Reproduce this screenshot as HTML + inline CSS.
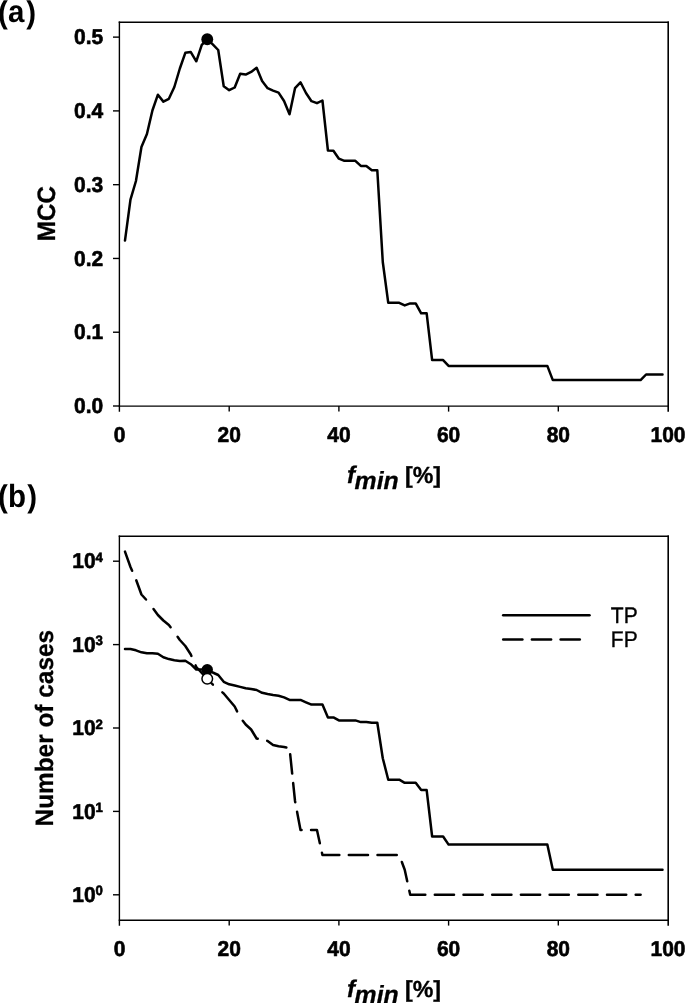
<!DOCTYPE html>
<html><head><meta charset="utf-8"><title>MCC and number of cases vs f_min</title>
<style>html,body{margin:0;padding:0;background:#fff;}svg{display:block;filter:grayscale(1);}text{font-family:"Liberation Sans", sans-serif;text-rendering:geometricPrecision;}</style></head><body>
<svg width="685" height="1003" viewBox="0 0 685 1003">
<rect width="685" height="1003" fill="#fff"/>
<text transform="translate(-2.10,22.60) scale(1,1.067)" font-size="29.5" font-weight="bold">(</text>
<text transform="translate(8.10,22.25) scale(1,1.050)" font-size="29.5" font-weight="bold">a</text>
<text transform="translate(26.20,22.60) scale(1,1.067)" font-size="29.5" font-weight="bold">)</text>
<line x1="118.70" y1="22.25" x2="669.00" y2="22.25" stroke="#000" stroke-width="1.50"/>
<line x1="118.70" y1="406.17" x2="669.00" y2="406.17" stroke="#000" stroke-width="1.35"/>
<line x1="119.40" y1="21.50" x2="119.40" y2="411.77" stroke="#000" stroke-width="1.40"/>
<line x1="668.20" y1="21.50" x2="668.20" y2="411.77" stroke="#000" stroke-width="1.60"/>
<line x1="113.00" y1="406.00" x2="119.50" y2="406.00" stroke="#000" stroke-width="1.40"/>
<text transform="translate(103.20,413.25) scale(1,1.025)" font-size="21.00" font-weight="bold" text-anchor="end" stroke="#000" stroke-width="0.60" stroke-linejoin="round">0.0</text>
<line x1="113.00" y1="332.22" x2="119.50" y2="332.22" stroke="#000" stroke-width="1.40"/>
<text transform="translate(103.20,339.47) scale(1,1.025)" font-size="21.00" font-weight="bold" text-anchor="end" stroke="#000" stroke-width="0.60" stroke-linejoin="round">0.1</text>
<line x1="113.00" y1="258.45" x2="119.50" y2="258.45" stroke="#000" stroke-width="1.40"/>
<text transform="translate(103.20,265.70) scale(1,1.025)" font-size="21.00" font-weight="bold" text-anchor="end" stroke="#000" stroke-width="0.60" stroke-linejoin="round">0.2</text>
<line x1="113.00" y1="184.67" x2="119.50" y2="184.67" stroke="#000" stroke-width="1.40"/>
<text transform="translate(103.20,191.92) scale(1,1.025)" font-size="21.00" font-weight="bold" text-anchor="end" stroke="#000" stroke-width="0.60" stroke-linejoin="round">0.3</text>
<line x1="113.00" y1="110.90" x2="119.50" y2="110.90" stroke="#000" stroke-width="1.40"/>
<text transform="translate(103.20,118.15) scale(1,1.025)" font-size="21.00" font-weight="bold" text-anchor="end" stroke="#000" stroke-width="0.60" stroke-linejoin="round">0.4</text>
<line x1="113.00" y1="37.12" x2="119.50" y2="37.12" stroke="#000" stroke-width="1.40"/>
<text transform="translate(103.20,44.37) scale(1,1.025)" font-size="21.00" font-weight="bold" text-anchor="end" stroke="#000" stroke-width="0.60" stroke-linejoin="round">0.5</text>
<text transform="translate(119.50,441.50) scale(1,1.025)" font-size="21.00" font-weight="bold" text-anchor="middle" stroke="#000" stroke-width="0.60" stroke-linejoin="round">0</text>
<line x1="229.20" y1="406.00" x2="229.20" y2="411.60" stroke="#000" stroke-width="1.40"/>
<text transform="translate(229.20,441.50) scale(1,1.025)" font-size="21.00" font-weight="bold" text-anchor="middle" stroke="#000" stroke-width="0.60" stroke-linejoin="round">20</text>
<line x1="338.90" y1="406.00" x2="338.90" y2="411.60" stroke="#000" stroke-width="1.40"/>
<text transform="translate(338.90,441.50) scale(1,1.025)" font-size="21.00" font-weight="bold" text-anchor="middle" stroke="#000" stroke-width="0.60" stroke-linejoin="round">40</text>
<line x1="448.60" y1="406.00" x2="448.60" y2="411.60" stroke="#000" stroke-width="1.40"/>
<text transform="translate(448.60,441.50) scale(1,1.025)" font-size="21.00" font-weight="bold" text-anchor="middle" stroke="#000" stroke-width="0.60" stroke-linejoin="round">60</text>
<line x1="558.30" y1="406.00" x2="558.30" y2="411.60" stroke="#000" stroke-width="1.40"/>
<text transform="translate(558.30,441.50) scale(1,1.025)" font-size="21.00" font-weight="bold" text-anchor="middle" stroke="#000" stroke-width="0.60" stroke-linejoin="round">80</text>
<text transform="translate(668.00,441.50) scale(1,1.025)" font-size="21.00" font-weight="bold" text-anchor="middle" stroke="#000" stroke-width="0.60" stroke-linejoin="round">100</text>
<text x="347.00" y="483.00" font-size="24.20" font-weight="bold" font-style="italic" stroke="#000" stroke-width="0.30" stroke-linejoin="round">f</text>
<text x="354.60" y="488.80" font-size="24.80" font-weight="bold" font-style="italic" stroke="#000" stroke-width="0.30" stroke-linejoin="round">min</text>
<text x="405.00" y="483.00" font-size="23.20" font-weight="bold" stroke="#000" stroke-width="0.35" stroke-linejoin="round">[%]</text>
<text transform="translate(54.6,213.6) rotate(-90) scale(1,1.04)" font-size="24.2" font-weight="bold" text-anchor="middle" stroke="#000" stroke-width="0.3" stroke-linejoin="round">MCC</text>
<polyline points="124.98,240.60 130.47,199.70 135.95,181.00 141.44,147.00 146.93,134.00 152.41,110.50 157.90,94.70 163.38,101.60 168.87,98.80 174.35,87.00 179.84,68.50 185.32,52.80 190.81,52.10 196.29,61.30 201.78,44.90 207.26,39.30 212.75,44.40 218.23,50.00 223.72,86.30 229.20,90.20 234.69,87.50 240.17,73.70 245.66,74.60 251.14,71.90 256.62,67.80 262.11,81.10 267.60,88.20 273.08,90.60 278.56,92.60 284.05,101.00 289.53,114.30 295.02,88.20 300.50,82.30 305.99,93.00 311.48,101.20 316.96,103.20 322.44,100.50 327.93,150.50 333.41,150.80 338.90,158.70 344.38,160.80 349.87,160.80 355.36,160.80 360.84,165.90 366.32,165.90 371.81,170.20 377.30,170.20 382.78,262.00 388.26,302.80 393.75,302.80 399.24,302.80 404.72,305.40 410.20,303.40 415.69,303.40 421.18,313.30 426.66,313.30 432.14,360.10 437.63,360.10 443.12,360.10 448.60,365.90 454.08,365.90 459.57,365.90 465.06,365.90 470.54,365.90 476.02,365.90 481.51,365.90 487.00,365.90 492.48,365.90 497.96,365.90 503.45,365.90 508.94,365.90 514.42,365.90 519.90,365.90 525.39,365.90 530.88,365.90 536.36,365.90 541.85,365.90 547.33,365.90 552.82,380.10 558.30,380.10 563.79,380.10 569.27,380.10 574.75,380.10 580.24,380.10 585.73,380.10 591.21,380.10 596.69,380.10 602.18,380.10 607.66,380.10 613.15,380.10 618.63,380.10 624.12,380.10 629.61,380.10 635.09,380.10 640.58,380.10 646.06,374.50 651.54,374.50 657.03,374.50 662.51,374.50" fill="none" stroke="#000" stroke-width="2.50" stroke-linejoin="round" stroke-linecap="round"/>
<circle cx="207.26" cy="39.30" r="5.95" fill="#000"/>
<text transform="translate(-2.10,506.55) scale(1,1.067)" font-size="29.5" font-weight="bold">(</text>
<text transform="translate(8.10,506.75) scale(1,1.085)" font-size="29.5" font-weight="bold">b</text>
<text transform="translate(27.30,506.55) scale(1,1.067)" font-size="29.5" font-weight="bold">)</text>
<line x1="118.70" y1="536.26" x2="669.00" y2="536.26" stroke="#000" stroke-width="1.52"/>
<line x1="118.70" y1="920.25" x2="669.00" y2="920.25" stroke="#000" stroke-width="1.50"/>
<line x1="119.40" y1="535.50" x2="119.40" y2="925.85" stroke="#000" stroke-width="1.40"/>
<line x1="668.20" y1="535.50" x2="668.20" y2="925.85" stroke="#000" stroke-width="1.60"/>
<line x1="113.00" y1="894.80" x2="119.50" y2="894.80" stroke="#000" stroke-width="1.40"/>
<text transform="translate(102.90,902.05) scale(1,1.025)" font-size="21.00" font-weight="bold" text-anchor="end" stroke="#000" stroke-width="0.60" stroke-linejoin="round">10<tspan font-size="13.2" dy="-6.5">0</tspan></text>
<line x1="113.00" y1="811.40" x2="119.50" y2="811.40" stroke="#000" stroke-width="1.40"/>
<text transform="translate(102.90,818.65) scale(1,1.025)" font-size="21.00" font-weight="bold" text-anchor="end" stroke="#000" stroke-width="0.60" stroke-linejoin="round">10<tspan font-size="13.2" dy="-6.5">1</tspan></text>
<line x1="113.00" y1="728.00" x2="119.50" y2="728.00" stroke="#000" stroke-width="1.40"/>
<text transform="translate(102.90,735.25) scale(1,1.025)" font-size="21.00" font-weight="bold" text-anchor="end" stroke="#000" stroke-width="0.60" stroke-linejoin="round">10<tspan font-size="13.2" dy="-6.5">2</tspan></text>
<line x1="113.00" y1="644.60" x2="119.50" y2="644.60" stroke="#000" stroke-width="1.40"/>
<text transform="translate(102.90,651.85) scale(1,1.025)" font-size="21.00" font-weight="bold" text-anchor="end" stroke="#000" stroke-width="0.60" stroke-linejoin="round">10<tspan font-size="13.2" dy="-6.5">3</tspan></text>
<line x1="113.00" y1="561.20" x2="119.50" y2="561.20" stroke="#000" stroke-width="1.40"/>
<text transform="translate(102.90,568.45) scale(1,1.025)" font-size="21.00" font-weight="bold" text-anchor="end" stroke="#000" stroke-width="0.60" stroke-linejoin="round">10<tspan font-size="13.2" dy="-6.5">4</tspan></text>
<text transform="translate(119.50,955.50) scale(1,1.025)" font-size="21.00" font-weight="bold" text-anchor="middle" stroke="#000" stroke-width="0.60" stroke-linejoin="round">0</text>
<line x1="229.20" y1="920.00" x2="229.20" y2="925.60" stroke="#000" stroke-width="1.40"/>
<text transform="translate(229.20,955.50) scale(1,1.025)" font-size="21.00" font-weight="bold" text-anchor="middle" stroke="#000" stroke-width="0.60" stroke-linejoin="round">20</text>
<line x1="338.90" y1="920.00" x2="338.90" y2="925.60" stroke="#000" stroke-width="1.40"/>
<text transform="translate(338.90,955.50) scale(1,1.025)" font-size="21.00" font-weight="bold" text-anchor="middle" stroke="#000" stroke-width="0.60" stroke-linejoin="round">40</text>
<line x1="448.60" y1="920.00" x2="448.60" y2="925.60" stroke="#000" stroke-width="1.40"/>
<text transform="translate(448.60,955.50) scale(1,1.025)" font-size="21.00" font-weight="bold" text-anchor="middle" stroke="#000" stroke-width="0.60" stroke-linejoin="round">60</text>
<line x1="558.30" y1="920.00" x2="558.30" y2="925.60" stroke="#000" stroke-width="1.40"/>
<text transform="translate(558.30,955.50) scale(1,1.025)" font-size="21.00" font-weight="bold" text-anchor="middle" stroke="#000" stroke-width="0.60" stroke-linejoin="round">80</text>
<text transform="translate(668.00,955.50) scale(1,1.025)" font-size="21.00" font-weight="bold" text-anchor="middle" stroke="#000" stroke-width="0.60" stroke-linejoin="round">100</text>
<text x="347.00" y="997.00" font-size="24.20" font-weight="bold" font-style="italic" stroke="#000" stroke-width="0.30" stroke-linejoin="round">f</text>
<text x="354.60" y="1002.80" font-size="24.80" font-weight="bold" font-style="italic" stroke="#000" stroke-width="0.30" stroke-linejoin="round">min</text>
<text x="405.00" y="997.00" font-size="23.20" font-weight="bold" stroke="#000" stroke-width="0.35" stroke-linejoin="round">[%]</text>
<text transform="translate(53.3,728.2) rotate(-90) scale(1,1.03)" font-size="24.4" font-weight="bold" text-anchor="middle" stroke="#000" stroke-width="0.25" stroke-linejoin="round">Number of cases</text>
<polyline points="124.98,649.00 130.47,649.00 135.95,650.30 141.44,652.30 146.93,653.20 152.41,653.20 157.90,653.80 163.38,657.30 168.87,659.10 174.35,660.20 179.84,661.00 185.32,660.80 190.81,664.20 196.29,669.50 201.78,669.60 207.26,669.70 212.75,672.50 218.23,675.00 223.72,681.80 229.20,684.30 234.69,685.50 240.17,686.90 245.66,688.20 251.14,689.00 256.62,690.00 262.11,692.80 267.60,694.00 273.08,695.00 278.56,695.80 284.05,697.40 289.53,699.90 295.02,699.90 300.50,699.90 305.99,702.30 311.48,704.60 316.96,704.60 322.44,704.60 327.93,717.40 333.41,717.40 338.90,720.40 344.38,720.40 349.87,720.40 355.36,720.40 360.84,722.10 366.32,722.10 371.81,722.80 377.30,722.80 382.78,758.20 388.26,779.69 393.75,779.69 399.24,779.69 404.72,782.84 410.20,782.84 415.69,782.84 421.18,790.11 426.66,790.11 432.14,836.51 437.63,836.51 443.12,836.51 448.60,844.59 454.08,844.59 459.57,844.59 465.06,844.59 470.54,844.59 476.02,844.59 481.51,844.59 487.00,844.59 492.48,844.59 497.96,844.59 503.45,844.59 508.94,844.59 514.42,844.59 519.90,844.59 525.39,844.59 530.88,844.59 536.36,844.59 541.85,844.59 547.33,844.59 552.82,869.69 558.30,869.69 563.79,869.69 569.27,869.69 574.75,869.69 580.24,869.69 585.73,869.69 591.21,869.69 596.69,869.69 602.18,869.69 607.66,869.69 613.15,869.69 618.63,869.69 624.12,869.69 629.61,869.69 635.09,869.69 640.58,869.69 646.06,869.69 651.54,869.69 657.03,869.69 662.51,869.69" fill="none" stroke="#000" stroke-width="2.50" stroke-linejoin="round" stroke-linecap="round"/>
<polyline points="124.98,551.60 130.47,567.00 132.14,570.80" fill="none" stroke="#000" stroke-width="2.50" stroke-linejoin="round" stroke-linecap="round"/>
<polyline points="136.25,580.30 141.44,594.50 146.01,599.50" fill="none" stroke="#000" stroke-width="2.50" stroke-linejoin="round" stroke-linecap="round"/>
<polyline points="153.51,609.00 157.90,615.00 163.38,620.50 168.87,625.00 170.60,627.22" fill="none" stroke="#000" stroke-width="2.50" stroke-linejoin="round" stroke-linecap="round"/>
<polyline points="177.58,636.72 179.84,640.00 185.32,646.00 190.81,654.50 191.43,655.91" fill="none" stroke="#000" stroke-width="2.50" stroke-linejoin="round" stroke-linecap="round"/>
<polyline points="195.59,665.41 196.29,667.00 201.78,673.00 207.26,678.80 212.75,684.50 212.86,684.59" fill="none" stroke="#000" stroke-width="2.50" stroke-linejoin="round" stroke-linecap="round"/>
<polyline points="222.36,692.39 223.72,693.50 229.20,700.00 234.69,706.50 237.10,711.35" fill="none" stroke="#000" stroke-width="2.50" stroke-linejoin="round" stroke-linecap="round"/>
<polyline points="242.79,720.85 245.66,724.50 251.14,729.50 256.62,738.50 257.69,738.69" fill="none" stroke="#000" stroke-width="2.50" stroke-linejoin="round" stroke-linecap="round"/>
<polyline points="267.19,740.89 267.60,741.00 273.08,745.00 278.56,746.30 284.05,747.00 286.38,747.43" fill="none" stroke="#000" stroke-width="2.50" stroke-linejoin="round" stroke-linecap="round"/>
<polyline points="290.19,754.35 292.18,773.55" fill="none" stroke="#000" stroke-width="2.50" stroke-linejoin="round" stroke-linecap="round"/>
<polyline points="293.16,783.05 295.02,801.00 295.26,802.25" fill="none" stroke="#000" stroke-width="2.50" stroke-linejoin="round" stroke-linecap="round"/>
<polyline points="297.06,811.75 300.50,829.90 301.55,829.90" fill="none" stroke="#000" stroke-width="2.50" stroke-linejoin="round" stroke-linecap="round"/>
<polyline points="311.05,829.90 311.48,829.90 316.96,829.90 319.86,843.19" fill="none" stroke="#000" stroke-width="2.50" stroke-linejoin="round" stroke-linecap="round"/>
<polyline points="321.94,852.69 322.44,855.01 327.93,855.01 333.41,855.01 338.90,855.01 339.33,855.01" fill="none" stroke="#000" stroke-width="2.50" stroke-linejoin="round" stroke-linecap="round"/>
<polyline points="348.83,855.01 349.87,855.01 355.36,855.01 360.84,855.01 366.32,855.01 368.03,855.01" fill="none" stroke="#000" stroke-width="2.50" stroke-linejoin="round" stroke-linecap="round"/>
<polyline points="377.53,855.01 382.78,855.01 388.26,855.01 393.75,855.01 396.73,855.01" fill="none" stroke="#000" stroke-width="2.50" stroke-linejoin="round" stroke-linecap="round"/>
<polyline points="401.85,862.00 404.72,869.69 407.23,881.20" fill="none" stroke="#000" stroke-width="2.50" stroke-linejoin="round" stroke-linecap="round"/>
<polyline points="409.31,890.70 410.20,894.80 415.69,894.80 421.18,894.80 425.31,894.80" fill="none" stroke="#000" stroke-width="2.50" stroke-linejoin="round" stroke-linecap="round"/>
<polyline points="434.81,894.80 437.63,894.80 443.12,894.80 448.60,894.80 454.01,894.80" fill="none" stroke="#000" stroke-width="2.50" stroke-linejoin="round" stroke-linecap="round"/>
<polyline points="463.51,894.80 465.06,894.80 470.54,894.80 476.02,894.80 481.51,894.80 482.71,894.80" fill="none" stroke="#000" stroke-width="2.50" stroke-linejoin="round" stroke-linecap="round"/>
<polyline points="492.21,894.80 492.48,894.80 497.96,894.80 503.45,894.80 508.94,894.80 511.41,894.80" fill="none" stroke="#000" stroke-width="2.50" stroke-linejoin="round" stroke-linecap="round"/>
<polyline points="520.91,894.80 525.39,894.80 530.88,894.80 536.36,894.80 540.11,894.80" fill="none" stroke="#000" stroke-width="2.50" stroke-linejoin="round" stroke-linecap="round"/>
<polyline points="549.61,894.80 552.82,894.80 558.30,894.80 563.79,894.80 568.81,894.80" fill="none" stroke="#000" stroke-width="2.50" stroke-linejoin="round" stroke-linecap="round"/>
<polyline points="578.31,894.80 580.24,894.80 585.73,894.80 591.21,894.80 596.69,894.80 597.51,894.80" fill="none" stroke="#000" stroke-width="2.50" stroke-linejoin="round" stroke-linecap="round"/>
<polyline points="607.01,894.80 607.66,894.80 613.15,894.80 618.63,894.80 624.12,894.80 626.21,894.80" fill="none" stroke="#000" stroke-width="2.50" stroke-linejoin="round" stroke-linecap="round"/>
<polyline points="635.71,894.80 640.58,894.80" fill="none" stroke="#000" stroke-width="2.50" stroke-linejoin="round" stroke-linecap="round"/>
<circle cx="207.26" cy="669.70" r="5.7" fill="#000"/>
<circle cx="207.26" cy="678.80" r="5.3" fill="#fff" stroke="#000" stroke-width="1.5"/>
<line x1="503.2" y1="615.3" x2="589.5" y2="615.3" stroke="#000" stroke-width="2.50" stroke-linecap="round"/>
<polyline points="503.20,639.40 522.40,639.40" fill="none" stroke="#000" stroke-width="2.50" stroke-linecap="round"/>
<polyline points="531.90,639.40 551.10,639.40" fill="none" stroke="#000" stroke-width="2.50" stroke-linecap="round"/>
<polyline points="560.60,639.40 579.80,639.40" fill="none" stroke="#000" stroke-width="2.50" stroke-linecap="round"/>
<text transform="translate(610.80,623.00) scale(1,1.075)" font-size="21.00" stroke="#000" stroke-width="0.35" stroke-linejoin="round">TP</text>
<text transform="translate(610.80,647.00) scale(1,1.080)" font-size="21.00" stroke="#000" stroke-width="0.35" stroke-linejoin="round">FP</text>
</svg></body></html>
